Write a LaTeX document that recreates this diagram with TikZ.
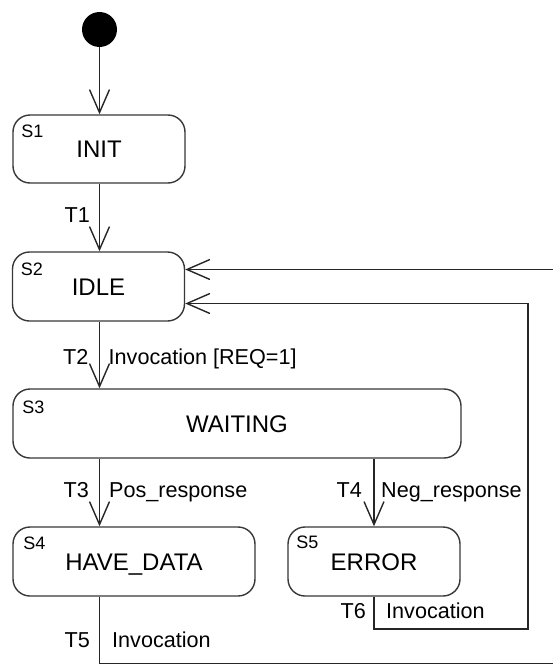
\documentclass[tikz,border=0pt]{standalone}
\usepackage{fontspec}
\setmainfont{Liberation Sans}
\usetikzlibrary{arrows.meta}
\begin{document}
\begin{tikzpicture}[x=1pt,y=-1pt,
  statebox/.style={draw=black!78, line width=1.4pt, rounded corners=17pt,
    fill=white, inner sep=0pt, text height=17pt, text depth=0pt,
    font=\fontsize{24}{28}\selectfont},
  tag/.style={inner sep=0pt, anchor=center, font=\fontsize{18}{21}\selectfont},
  lbl/.style={inner sep=0pt, font=\fontsize{21.6}{25}\selectfont},
  wire/.style={draw=black!85, line width=1.4pt},
  flow/.style={wire, -{Straight Barb[length=23pt,width=20pt,line width=1.4pt]}}]
\useasboundingbox (0,0) rectangle (552,664);

% initial pseudo-state
\node[circle, fill=black, minimum size=35pt, inner sep=0pt] (start) at (99.5,29.5) {};

% states
\node[statebox, minimum width=172pt, minimum height=68pt] (init) at (99,149) {INIT};
\node[statebox, minimum width=172pt, minimum height=69pt] (idle) at (98.5,286.5) {IDLE};
\node[statebox, minimum width=448pt, minimum height=69pt] (wait) at (237,423.5) {WAITING};
\node[statebox, minimum width=242pt, minimum height=69pt] (have) at (134,561.5) {HAVE\_DATA};
\node[statebox, minimum width=172pt, minimum height=69pt] (err) at (374,561.5) {ERROR};

% state numbers
\node[tag] (s1) at ([xshift=20pt,yshift=-17pt]init.north west) {S1};
\node[tag] (s2) at ([xshift=20pt,yshift=-18pt]idle.north west) {S2};
\node[tag] (s3) at ([xshift=21pt,yshift=-19pt]wait.north west) {S3};
\node[tag] (s4) at ([xshift=22pt,yshift=-17pt]have.north west) {S4};
\node[tag] (s5) at ([xshift=20pt,yshift=-16pt]err.north west) {S5};

% corner points of the return paths
\coordinate (c6) at (528,629);
\coordinate (c5) at (580,663.6);

% transitions
\draw[flow] (start) -- (init.north -| start);
\draw[flow] (init.south -| start) -- (idle.north -| start);
\draw[flow] (idle.south -| start) -- (wait.north -| start);
\draw[flow] (wait.south -| start) -- (have.north -| start);
\draw[flow] (wait.south -| err) -- (err.north);
\draw[flow] (err.south) |- (c6) |- ([yshift=-17pt]idle.east);
\draw[flow, draw=black!85] (have.south -| start) |- (c5) |- ([yshift=17pt]idle.east);

% transition labels
\node[lbl, anchor=base east] (t1) at (90,222.5) {T1};
\node[lbl, anchor=base east] (t2) at (88.5,364) {T2};
\node[lbl, anchor=base west] (e2) at (108.5,364) {Invocation [REQ=1]};
\node[lbl, anchor=base east] (t3) at (89,497.5) {T3};
\node[lbl, anchor=base west] (e3) at (109,497.5) {Pos\_response};
\node[lbl, anchor=base east] (t4) at (362,497.5) {T4};
\node[lbl, anchor=base west] (e4) at (381,497.5) {Neg\_response};
\node[lbl, anchor=base east] (t6) at (366,618.5) {T6};
\node[lbl, anchor=base west] (e6) at (386,618.5) {Invocation};
\node[lbl, anchor=base east] (t5) at (90,647.5) {T5};
\node[lbl, anchor=base west] (e5) at (112,647.5) {Invocation};
\end{tikzpicture}
\end{document}
